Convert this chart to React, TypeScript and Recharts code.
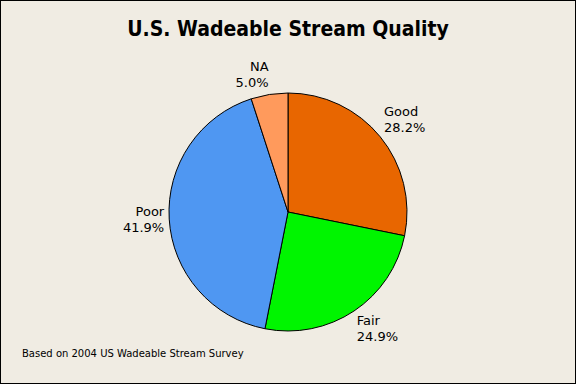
import { PieChart, Pie, Cell } from 'recharts';

const categories = ['Good', 'Fair', 'Poor', 'NA'];
const shares = [28.2, 24.9, 41.9, 5.0];
const sliceColors = ['#e86600', '#00f500', '#4f97f2', '#ff9a5c'];

const chartData = categories.map((name, i) => ({ name, value: shares[i] }));

const RAD = Math.PI / 180;

function renderLabel(props: any) {
  const { cx, cy, midAngle, outerRadius, index } = props;
  const cos = Math.cos(-midAngle * RAD);
  const sin = Math.sin(-midAngle * RAD); // screen y: negative = upper half
  const x = cx + (outerRadius + 5) * cos;
  const y = cy + (outerRadius + 8) * sin;
  const anchor = cos >= 0 ? 'start' : 'end';
  // first baseline depending on where the slice sits
  let base: number;
  if (sin < -0.3) base = y - 16;
  else if (sin > 0.3) base = y + 7;
  else base = y - 4;
  return (
    <text
      key={`lbl-${index}`}
      x={x}
      textAnchor={anchor}
      fill="#000"
      fontSize={13}
      fontFamily="'DejaVu Sans', sans-serif"
    >
      <tspan x={x} y={base}>{categories[index]}</tspan>
      <tspan x={x} y={base + 16}>{`${shares[index].toFixed(1)}%`}</tspan>
    </text>
  );
}

export default function App() {
  return (
    <div
      style={{
        position: 'relative',
        width: 576,
        height: 384,
        boxSizing: 'border-box',
        border: '1px solid #000',
        background: '#f0ece3',
      }}
    >
      <style>{'body{margin:0}'}</style>
      <div
        style={{
          position: 'absolute',
          top: 16,
          left: 0,
          width: '100%',
          textAlign: 'center',
          fontFamily: "'DejaVu Sans Condensed', 'DejaVu Sans', sans-serif",
          fontWeight: 'bold',
          fontSize: 21,
          color: '#000',
        }}
      >
        U.S. Wadeable Stream Quality
      </div>
      <div style={{ position: 'absolute', top: -1, left: -1 }}>
        <PieChart width={576} height={384} margin={{ top: 0, right: 0, bottom: 0, left: 0 }}>
          <Pie
            data={chartData}
            dataKey="value"
            nameKey="name"
            cx={288}
            cy={212}
            outerRadius={119}
            startAngle={90}
            endAngle={-270}
            stroke="#000"
            strokeWidth={1}
            label={renderLabel}
            labelLine={false}
            isAnimationActive={false}
          >
            {chartData.map((d, i) => (
              <Cell key={d.name} fill={sliceColors[i]} />
            ))}
          </Pie>
        </PieChart>
      </div>
      <div
        style={{
          position: 'absolute',
          left: 21,
          top: 347,
          fontFamily: "'DejaVu Sans', sans-serif",
          fontSize: 10,
          color: '#000',
        }}
      >
        Based on 2004 US Wadeable Stream Survey
      </div>
    </div>
  );
}
